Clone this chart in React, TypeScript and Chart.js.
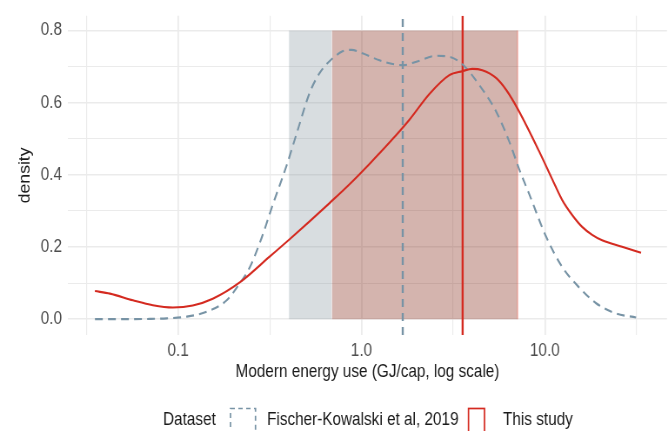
import React, { useEffect, useRef } from 'react';
import { Chart, registerables } from 'chart.js';

Chart.register(...registerables);

// ---------- data ----------
const fkEnergy = [0.0352, 0.0546, 0.0701, 0.0868, 0.1115, 0.1432, 0.1841, 0.2168, 0.2456, 0.2855, 0.3277, 0.3906, 0.4427, 0.5211, 0.5906, 0.6866, 0.788, 0.8822, 1.0126, 1.2529, 1.5504, 1.6926, 1.9928, 2.56, 3.013, 3.546, 4.388, 5.432, 6.393, 7.246, 8.214, 10.16, 12.43, 15.37, 19.02, 24.44, 31.41];
const fkDensity = [0.0, 0.0, 0.0006, 0.0022, 0.0069, 0.0206, 0.0522, 0.099, 0.143, 0.2255, 0.3162, 0.4261, 0.5141, 0.6268, 0.6818, 0.7203, 0.7423, 0.7464, 0.7368, 0.7175, 0.7052, 0.7038, 0.7134, 0.7299, 0.7271, 0.7065, 0.6488, 0.5745, 0.4921, 0.4151, 0.3464, 0.2282, 0.1443, 0.0879, 0.044, 0.0157, 0.0047];

const studyEnergy = [0.0352, 0.0425, 0.0567, 0.0728, 0.0936, 0.1202, 0.1545, 0.2168, 0.3155, 0.4055, 0.5211, 0.6695, 0.8604, 1.105, 1.42, 1.825, 2.345, 3.013, 3.546, 4.021, 4.557, 5.432, 6.157, 7.154, 9.311, 10.96, 12.43, 14.08, 15.96, 18.1, 20.51, 26.35, 33.44];
const studyDensity = [0.0778, 0.0707, 0.0522, 0.0385, 0.0322, 0.0377, 0.0564, 0.1017, 0.1732, 0.2213, 0.2708, 0.3217, 0.3739, 0.4302, 0.4893, 0.5526, 0.6241, 0.6763, 0.6873, 0.6937, 0.69, 0.668, 0.635, 0.58, 0.4646, 0.3876, 0.3299, 0.2887, 0.2557, 0.2337, 0.2186, 0.2007, 0.1837];

const fkBand = [0.402, 0.689];
const studyBand = [0.689, 7.1];
const bandTop = 0.8;
const fkMedian = 1.678;
const studyMedian = 3.56;

const xRange = [0.0251, 46.3];
const yRange = [-0.044, 0.841];

const xMajorTicks = [0.1, 1, 10];
const xTickLabels = ['0.1', '1.0', '10.0'];
const xMinorTicks = [0.0316, 0.316, 3.16, 31.6];
const yMajorTicks = [0, 0.2, 0.4, 0.6, 0.8];
const yTickLabels = ['0.0', '0.2', '0.4', '0.6', '0.8'];
const yMinorTicks = [0.1, 0.3, 0.5, 0.7];

const xTitle = 'Modern energy use (GJ/cap, log scale)';
const yTitle = 'density';
const legendTitle = 'Dataset';
const seriesNames = ['Fischer-Kowalski et al, 2019', 'This study'];

// ---------- style ----------
const FK_COLOR = '#7793a5';
const STUDY_COLOR = '#d42a20';
const FK_BAND = 'rgba(125,142,152,0.30)';
const STUDY_BAND = 'rgba(132,41,24,0.35)';
const STUDY_BAND_EDGE = 'rgba(235,110,95,0.55)';
const GRID = '#ebebeb';
const TICK_COLOR = '#4d4d4d';
const TEXT_COLOR = '#1a1a1a';

// the reference is slightly condensed horizontally: draw wider, then squeeze
const VIEW_W = 668;
const VIEW_H = 431;
const CANVAS_W = 768;
const SX = VIEW_W / CANVAS_W;
const px = (v: number) => v / SX; // display x -> canvas x

function fitFont(): { family: string; size: number } {
  const family = '"Liberation Sans", Arial, sans-serif';
  const c = document.createElement('canvas').getContext('2d');
  if (!c) return { family, size: 17.6 };
  c.font = `100px ${family}`;
  const w = c.measureText(xTitle).width;
  return { family, size: (px(264) / w) * 100 };
}

const near = (a: number, b: number) => Math.abs(a - b) < 1e-6 * Math.max(1, Math.abs(b));

export default function App() {
  const ref = useRef<HTMLCanvasElement | null>(null);

  useEffect(() => {
    if (!ref.current) return;
    const { family, size: fs } = fitFont();
    const font = { family, size: fs, lineHeight: 1 };

    const legendPlugin = {
      id: 'ggLegend',
      afterDraw(chart: any) {
        const ctx = chart.ctx as CanvasRenderingContext2D;
        const cy = 420.5;
        ctx.save();
        ctx.font = `${fs}px ${family}`;
        ctx.fillStyle = TEXT_COLOR;
        ctx.textBaseline = 'middle';
        ctx.textAlign = 'left';
        ctx.fillText(legendTitle, px(163), cy);
        ctx.fillText(seriesNames[0], px(267), cy);
        ctx.fillText(seriesNames[1], px(503), cy);
        ctx.lineWidth = 1.7;
        ctx.strokeStyle = FK_COLOR;
        ctx.setLineDash([5, 4]);
        ctx.strokeRect(px(230.5), 408.5, px(25), 30);
        ctx.setLineDash([]);
        ctx.strokeStyle = STUDY_COLOR;
        ctx.strokeRect(px(468.5), 408.5, px(16), 30);
        ctx.restore();
      },
    };

    const pts = (xs: number[], ys: number[]) => xs.map((x, i) => ({ x, y: ys[i] }));

    const chart = new Chart(ref.current, {
      type: 'line',
      data: {
        datasets: [
          {
            label: seriesNames[0],
            data: pts(fkEnergy, fkDensity),
            borderColor: FK_COLOR,
            borderWidth: 2.1,
            borderDash: [9, 6],
            pointRadius: 0,
            fill: false,
            cubicInterpolationMode: 'monotone',
            order: 1,
          },
          {
            label: seriesNames[1],
            data: pts(studyEnergy, studyDensity),
            borderColor: STUDY_COLOR,
            borderWidth: 2.1,
            pointRadius: 0,
            fill: false,
            cubicInterpolationMode: 'monotone',
            order: 0,
          },
          {
            label: 'fk median',
            data: [{ x: fkMedian, y: yRange[0] }, { x: fkMedian, y: yRange[1] }],
            borderColor: FK_COLOR,
            borderWidth: 2.4,
            borderDash: [8, 6],
            pointRadius: 0,
            fill: false,
            order: 3,
          },
          {
            label: 'study median',
            data: [{ x: studyMedian, y: yRange[0] }, { x: studyMedian, y: yRange[1] }],
            borderColor: STUDY_COLOR,
            borderWidth: 2.4,
            pointRadius: 0,
            fill: false,
            order: 2,
          },
          {
            label: 'study band edge',
            data: [{ x: studyBand[1], y: 0 }, { x: studyBand[1], y: bandTop }],
            borderColor: STUDY_BAND_EDGE,
            borderWidth: 1.2,
            pointRadius: 0,
            fill: false,
            order: 9,
          },
          {
            label: 'fk band',
            data: [{ x: fkBand[0], y: bandTop }, { x: fkBand[1], y: bandTop }],
            borderColor: 'rgba(0,0,0,0)',
            borderWidth: 0,
            backgroundColor: FK_BAND,
            pointRadius: 0,
            fill: 'origin',
            order: 11,
          },
          {
            label: 'study band',
            data: [{ x: studyBand[0], y: bandTop }, { x: studyBand[1], y: bandTop }],
            borderColor: 'rgba(0,0,0,0)',
            borderWidth: 0,
            backgroundColor: STUDY_BAND,
            pointRadius: 0,
            fill: 'origin',
            order: 10,
          },
        ],
      },
      options: {
        animation: false,
        responsive: true,
        maintainAspectRatio: false,
        devicePixelRatio: 1,
        layout: { padding: { top: 13, right: 0, bottom: 0, left: 0 } },
        plugins: {
          legend: { display: false },
          tooltip: { enabled: false },
        },
        scales: {
          x: {
            type: 'logarithmic',
            min: xRange[0],
            max: xRange[1],
            afterBuildTicks: (s: any) => {
              s.ticks = [...xMinorTicks, ...xMajorTicks].sort((a, b) => a - b).map((v) => ({ value: v }));
            },
            afterFit: (s: any) => {
              s.height = 96;
            },
            ticks: {
              autoSkip: false,
              maxRotation: 0,
              minRotation: 0,
              padding: 15.3 - 0.45 * fs,
              color: TICK_COLOR,
              font,
              callback: (v: any) => {
                const i = xMajorTicks.findIndex((m) => near(Number(v), m));
                return i >= 0 ? xTickLabels[i] : '';
              },
            },
            grid: {
              color: GRID,
              drawTicks: false,
              lineWidth: (c: any) => (xMajorTicks.some((m) => near(c.tick?.value, m)) ? 1.8 : 1.15),
            },
            border: { display: false },
            title: {
              display: true,
              text: xTitle,
              color: TEXT_COLOR,
              font,
              padding: { top: 0, bottom: 431 - 371.7 - fs / 2 },
            },
          },
          y: {
            type: 'linear',
            min: yRange[0],
            max: yRange[1],
            afterBuildTicks: (s: any) => {
              s.ticks = [...yMinorTicks, ...yMajorTicks].sort((a, b) => a - b).map((v) => ({ value: v }));
            },
            afterFit: (s: any) => {
              s.width = px(68);
            },
            ticks: {
              autoSkip: false,
              padding: px(6),
              color: TICK_COLOR,
              font,
              callback: (v: any) => {
                const i = yMajorTicks.findIndex((m) => near(Number(v), m));
                return i >= 0 ? yTickLabels[i] : '';
              },
            },
            grid: {
              color: GRID,
              drawTicks: false,
              lineWidth: (c: any) => (yMajorTicks.some((m) => near(c.tick?.value, m)) ? 1.6 : 1.0),
            },
            border: { display: false },
            title: {
              display: true,
              text: yTitle,
              color: TEXT_COLOR,
              font,
              padding: { top: px(25) - fs / 2, bottom: 0 },
            },
          },
        },
      } as any,
      plugins: [legendPlugin],
    });
    return () => chart.destroy();
  }, []);

  return (
    <div style={{ position: 'absolute', left: 0, top: 0, width: VIEW_W, height: VIEW_H, overflow: 'hidden', background: '#ffffff' }}>
      <div
        style={{
          width: CANVAS_W,
          height: VIEW_H,
          transform: `scaleX(${SX})`,
          transformOrigin: '0 0',
        }}
      >
        <canvas ref={ref} />
      </div>
    </div>
  );
}
